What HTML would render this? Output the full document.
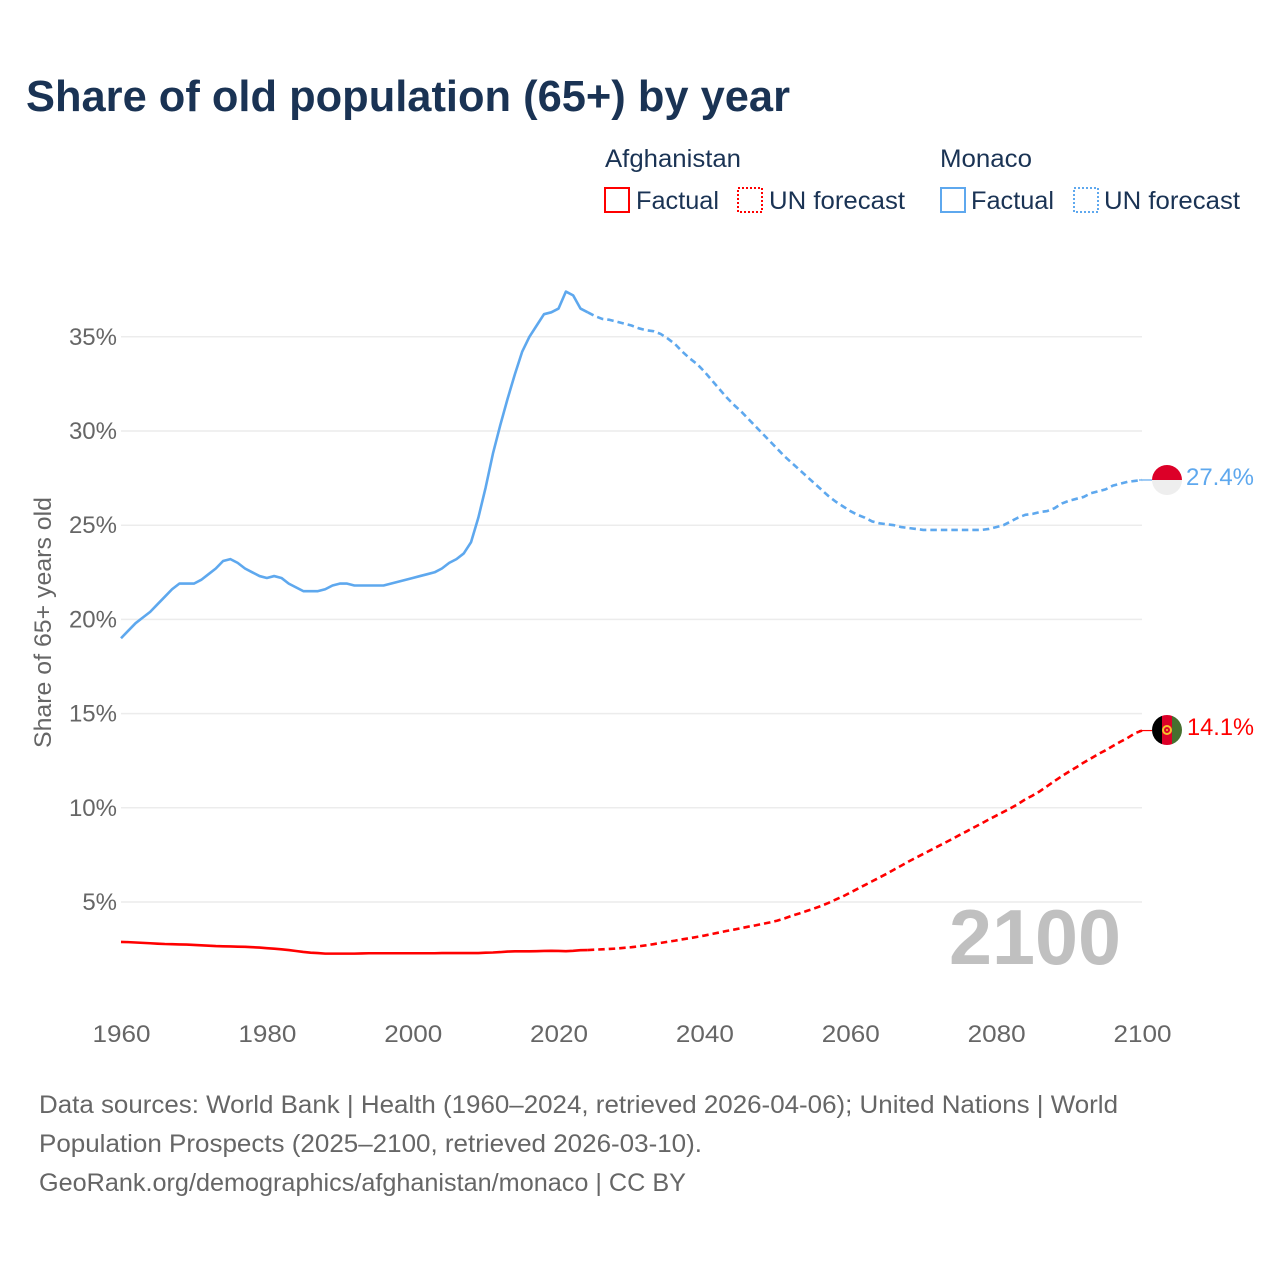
<!DOCTYPE html>
<html lang="en">
<head>
<meta charset="utf-8">
<title>Share of old population (65+) by year</title>
<style>
html,body{margin:0;padding:0;background:#fff;width:1280px;height:1280px;overflow:hidden}
svg{display:block}
text{font-family:"Liberation Sans",sans-serif}
</style>
</head>
<body>
<svg id="chart" width="1280" height="1280" viewBox="0 0 1280 1280" xmlns="http://www.w3.org/2000/svg">
  <defs>
    <clipPath id="flag-mc-clip"><circle cx="1167" cy="480" r="15"/></clipPath>
    <clipPath id="flag-af-clip"><circle cx="1167" cy="730" r="15"/></clipPath>
  </defs>
  <rect width="1280" height="1280" fill="#fff"/>
  <text x="26" y="111" font-size="44" font-weight="700" fill="#1a3354" textLength="764" lengthAdjust="spacingAndGlyphs">Share of old population (65+) by year</text>

  <g font-size="25" fill="#1a3354">
    <text x="605" y="167" textLength="136" lengthAdjust="spacingAndGlyphs">Afghanistan</text>
    <rect x="605" y="188" width="24" height="24" fill="none" stroke="#ff0000" stroke-width="2"/>
    <text x="636" y="209" textLength="83" lengthAdjust="spacingAndGlyphs">Factual</text>
    <rect x="738" y="188" width="24" height="24" fill="none" stroke="#ff0000" stroke-width="2" stroke-dasharray="2 2"/>
    <text x="769" y="209" textLength="136" lengthAdjust="spacingAndGlyphs">UN forecast</text>
    <text x="940" y="167" textLength="92" lengthAdjust="spacingAndGlyphs">Monaco</text>
    <rect x="941" y="188" width="24" height="24" fill="none" stroke="#5ea8ee" stroke-width="2"/>
    <text x="971" y="209" textLength="83" lengthAdjust="spacingAndGlyphs">Factual</text>
    <rect x="1074" y="188" width="24" height="24" fill="none" stroke="#5ea8ee" stroke-width="2" stroke-dasharray="2 2"/>
    <text x="1104" y="209" textLength="136" lengthAdjust="spacingAndGlyphs">UN forecast</text>
  </g>

  <g id="grid"></g>
  <g id="yticks" font-size="24" fill="#666"></g>
  <g id="xticks" font-size="24" fill="#666"></g>
  <text transform="translate(51,748) rotate(-90)" font-size="24" fill="#666" textLength="251" lengthAdjust="spacingAndGlyphs">Share of 65+ years old</text>
  <g id="series"></g>

  <g clip-path="url(#flag-mc-clip)">
    <rect x="1152" y="465" width="30" height="15" fill="#dc0028"/>
    <rect x="1152" y="480" width="30" height="15" fill="#eeeeee"/>
  </g>
  <g clip-path="url(#flag-af-clip)">
    <rect x="1152" y="715" width="10" height="30" fill="#000"/>
    <rect x="1162" y="715" width="10" height="30" fill="#dc0028"/>
    <rect x="1172" y="715" width="10" height="30" fill="#46702f"/>
    <circle cx="1167" cy="730" r="4" fill="none" stroke="#f5c02c" stroke-width="2"/>
    <circle cx="1167" cy="730" r="1" fill="#f5c02c"/>
  </g>
  <text x="1186" y="485" font-size="24" fill="#5ea8ee" textLength="68" lengthAdjust="spacingAndGlyphs">27.4%</text>
  <text x="1187" y="735" font-size="24" fill="#ff0000" textLength="67" lengthAdjust="spacingAndGlyphs">14.1%</text>
  <text x="949" y="964" font-size="78" font-weight="700" fill="#c0c0c0" textLength="172" lengthAdjust="spacingAndGlyphs">2100</text>

  <g font-size="25" fill="#666">
    <text x="39" y="1113" textLength="1079" lengthAdjust="spacingAndGlyphs">Data sources: World Bank | Health (1960–2024, retrieved 2026-04-06); United Nations | World</text>
    <text x="39" y="1152" textLength="663" lengthAdjust="spacingAndGlyphs">Population Prospects (2025–2100, retrieved 2026-03-10).</text>
    <text x="39" y="1191" textLength="647" lengthAdjust="spacingAndGlyphs">GeoRank.org/demographics/afghanistan/monaco | CC BY</text>
  </g>
</svg>
<script>
var factualStartYear = 1960;
var forecastStartYear = 2024;
var xTickYears = [1960, 1980, 2000, 2020, 2040, 2060, 2080, 2100];
var yTickValues = [5, 10, 15, 20, 25, 30, 35];
var yTickLabels = ["5%", "10%", "15%", "20%", "25%", "30%", "35%"];
var monacoFactual = [19.0,19.4,19.8,20.1,20.4,20.8,21.2,21.6,21.9,21.9,21.9,22.1,22.4,22.7,23.1,23.2,23.0,22.7,22.5,22.3,22.2,22.3,22.2,21.9,21.7,21.5,21.5,21.5,21.6,21.8,21.9,21.9,21.8,21.8,21.8,21.8,21.8,21.9,22.0,22.1,22.2,22.3,22.4,22.5,22.7,23.0,23.2,23.5,24.1,25.4,27.0,28.8,30.3,31.7,33.0,34.2,35.0,35.6,36.2,36.3,36.5,37.4,37.2,36.5,36.3];
var monacoForecast = [36.3,36.1,35.95,35.9,35.8,35.7,35.6,35.45,35.35,35.3,35.15,34.9,34.6,34.2,33.85,33.55,33.15,32.7,32.25,31.8,31.4,31.05,30.65,30.25,29.85,29.45,29.05,28.65,28.3,27.95,27.6,27.25,26.9,26.55,26.25,26.0,25.75,25.55,25.4,25.2,25.1,25.05,25.0,24.9,24.85,24.8,24.75,24.75,24.75,24.75,24.75,24.75,24.75,24.75,24.75,24.8,24.9,25.0,25.2,25.4,25.55,25.6,25.7,25.75,25.9,26.15,26.3,26.4,26.5,26.7,26.8,26.9,27.1,27.2,27.3,27.35,27.4];
var afghanistanFactual = [2.88,2.87,2.85,2.83,2.81,2.79,2.77,2.76,2.75,2.74,2.72,2.70,2.68,2.66,2.65,2.64,2.63,2.62,2.60,2.58,2.55,2.52,2.49,2.45,2.40,2.35,2.31,2.29,2.26,2.26,2.26,2.26,2.26,2.27,2.28,2.28,2.28,2.28,2.28,2.28,2.28,2.28,2.28,2.28,2.29,2.29,2.29,2.29,2.29,2.29,2.31,2.32,2.34,2.37,2.38,2.38,2.38,2.39,2.40,2.41,2.40,2.39,2.41,2.44,2.45];
var afghanistanForecast = [2.45,2.47,2.49,2.51,2.53,2.57,2.60,2.65,2.70,2.76,2.83,2.89,2.95,3.02,3.08,3.15,3.22,3.30,3.38,3.46,3.53,3.61,3.69,3.76,3.84,3.92,4.01,4.13,4.27,4.39,4.52,4.65,4.79,4.95,5.13,5.30,5.50,5.70,5.90,6.10,6.30,6.50,6.72,6.93,7.15,7.35,7.55,7.75,7.95,8.15,8.35,8.56,8.76,8.97,9.17,9.38,9.58,9.78,9.98,10.2,10.45,10.65,10.88,11.15,11.42,11.68,11.92,12.15,12.4,12.62,12.85,13.05,13.28,13.5,13.7,13.95,14.1];

var SVG_NS = "http://www.w3.org/2000/svg";
function xScale(year) { return 121 + (year - 1960) * (1021 / 140); }
function yScale(value) { return 996.2 - value * 18.84; }
function make(tag, attrs) {
  var el = document.createElementNS(SVG_NS, tag);
  for (var k in attrs) el.setAttribute(k, attrs[k]);
  return el;
}
function pathFrom(values, startYear) {
  return values.map(function (v, i) {
    return (i ? "L" : "M") + xScale(startYear + i).toFixed(2) + " " + yScale(v).toFixed(2);
  }).join("");
}

var grid = document.getElementById("grid");
var yticks = document.getElementById("yticks");
yTickValues.forEach(function (v, i) {
  var line = make("line", { x1: 121, x2: 1142, y1: yScale(v), y2: yScale(v), stroke: "#ececec", "stroke-width": 1.5 });
  
  
  grid.appendChild(line);
  var label = make("text", { x: 117, y: yScale(v) + 8, "text-anchor": "end" });
  
  
  label.textContent = yTickLabels[i];
  yticks.appendChild(label);
});

var xticks = document.getElementById("xticks");
xTickYears.forEach(function (year) {
  var label = make("text", { x: xScale(year) + 0.5, y: 1042, "text-anchor": "middle", textLength: 58, lengthAdjust: "spacingAndGlyphs" });
  
  
  label.textContent = year;
  xticks.appendChild(label);
});

var series = document.getElementById("series");
function addLine(values, startYear, color, dashed, name) {
  var attrs = { d: pathFrom(values, startYear), fill: "none", stroke: color, "stroke-width": 2.6, "stroke-linejoin": "round" };
  if (dashed) attrs["stroke-dasharray"] = "6.5 4";
  var p = make("path", attrs);
  
  
  series.appendChild(p);
}
addLine(monacoFactual, factualStartYear, "#5ea8ee", false, "monaco-factual-line");
addLine(monacoForecast, forecastStartYear, "#5ea8ee", true, "monaco-forecast-line");
addLine(afghanistanFactual, factualStartYear, "#ff0000", false, "afghanistan-factual-line");
addLine(afghanistanForecast, forecastStartYear, "#ff0000", true, "afghanistan-forecast-line");

function addConnector(values, color, name) {
  var last = values[values.length - 1];
  var c = make("line", { x1: xScale(2100) - 3, x2: 1152, y1: yScale(last), y2: yScale(last), stroke: color, "stroke-width": 1.2 });
  
  
  series.appendChild(c);
}
addConnector(monacoForecast, "#5ea8ee", "monaco-end-connector");
addConnector(afghanistanForecast, "#ff0000", "afghanistan-end-connector");
</script>
</body>
</html>
